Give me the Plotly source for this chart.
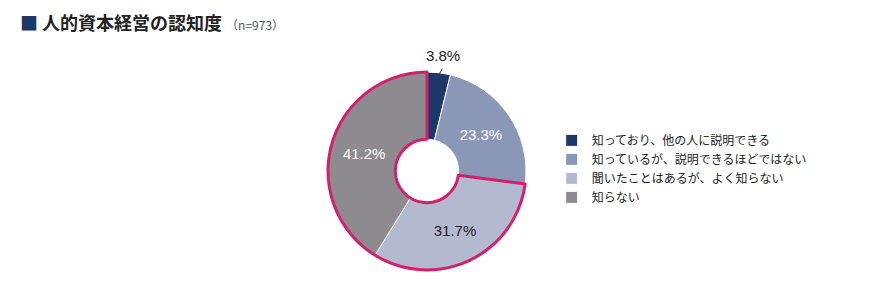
import math
import plotly.graph_objects as go

labels = ["知っており、他の人に説明できる", "知っているが、説明できるほどではない", "聞いたことはあるが、よく知らない", "知らない"]
values = [3.8, 23.3, 31.7, 41.2]
colors = ["#1d3768", "#8a97b6", "#b3bacf", "#8d8b8f"]
text_colors = ["#222222", "#ffffff", "#222222", "#ffffff"]
text_pos = ["none", "inside", "inside", "inside"]
title_text = "人的資本経営の認知度"
n_text = "（n=973）"

W, H = 882, 307
cx, cy, r = 427, 171, 99
dom_x = [(cx - r) / W, (cx + r) / W]
dom_y = [1 - (cy + r) / H, 1 - (cy - r) / H]
hole = 0.32

fig = go.Figure()
fig.add_trace(go.Pie(
    labels=labels, values=values, sort=False, direction="clockwise", rotation=0,
    hole=hole, domain=dict(x=dom_x, y=dom_y),
    marker=dict(colors=colors, line=dict(color="#ffffff", width=1)),
    texttemplate="%{value:.1f}%", textposition=text_pos,
    insidetextfont=dict(color=text_colors, size=15, family="Liberation Sans, Arial"),
    insidetextorientation="horizontal",
    hoverinfo="label+percent",
))
# highlight outline around the last two categories combined
grp = [sum(values[:2]), sum(values[2:])]
fig.add_trace(go.Pie(
    values=grp, labels=["a", "b"], sort=False, direction="clockwise", rotation=0,
    hole=hole, domain=dict(x=dom_x, y=dom_y),
    marker=dict(colors=["rgba(0,0,0,0)", "rgba(0,0,0,0)"],
                line=dict(color=["rgba(0,0,0,0)", "#d3206b"], width=3)),
    textinfo="none", hoverinfo="skip", showlegend=False,
))

# outside label for the small first slice, placed along its mid-angle
ang = math.radians(values[0] / 2 / sum(values) * 360)
def pt(rad):
    return (cx + rad * math.sin(ang)) / W, 1 - (cy - rad * math.cos(ang)) / H
x0, y0 = pt(r - 3)
x1, y1 = pt(r + 4)
lx, ly = pt(r + 7)
shapes = [dict(type="line", xref="paper", yref="paper", x0=x0, y0=y0, x1=x1 + 3 / W, y1=y1,
               line=dict(color="#333333", width=1))]

fig.update_layout(
    width=W, height=H, margin=dict(l=0, r=0, t=0, b=0),
    paper_bgcolor="white", plot_bgcolor="white",
    font=dict(family="Noto Sans CJK JP", color="#333333"),
    showlegend=True,
    legend=dict(x=0.6255, y=0.59, xanchor="left", yanchor="top",
                font=dict(size=12, color="#222222", family="Noto Sans CJK JP"),
                tracegroupgap=0),
    shapes=shapes,
    annotations=[
        dict(x=18 / W, y=1 - 22 / H, xref="paper", yref="paper", xanchor="left", yanchor="middle",
             showarrow=False,
             text=f"<span style='color:#1d3768'>■</span> <b>{title_text}</b> <span style='font-size:12px;color:#555'>{n_text}</span>",
             font=dict(size=18, color="#222222", family="Noto Sans CJK JP")),
        dict(x=lx + 3 / W, y=ly, xref="paper", yref="paper", xanchor="center", yanchor="bottom",
             showarrow=False, text=f"{values[0]:.1f}%",
             font=dict(size=15, color="#222222", family="Liberation Sans, Arial")),
    ],
)
fig.write_html("out.html")
